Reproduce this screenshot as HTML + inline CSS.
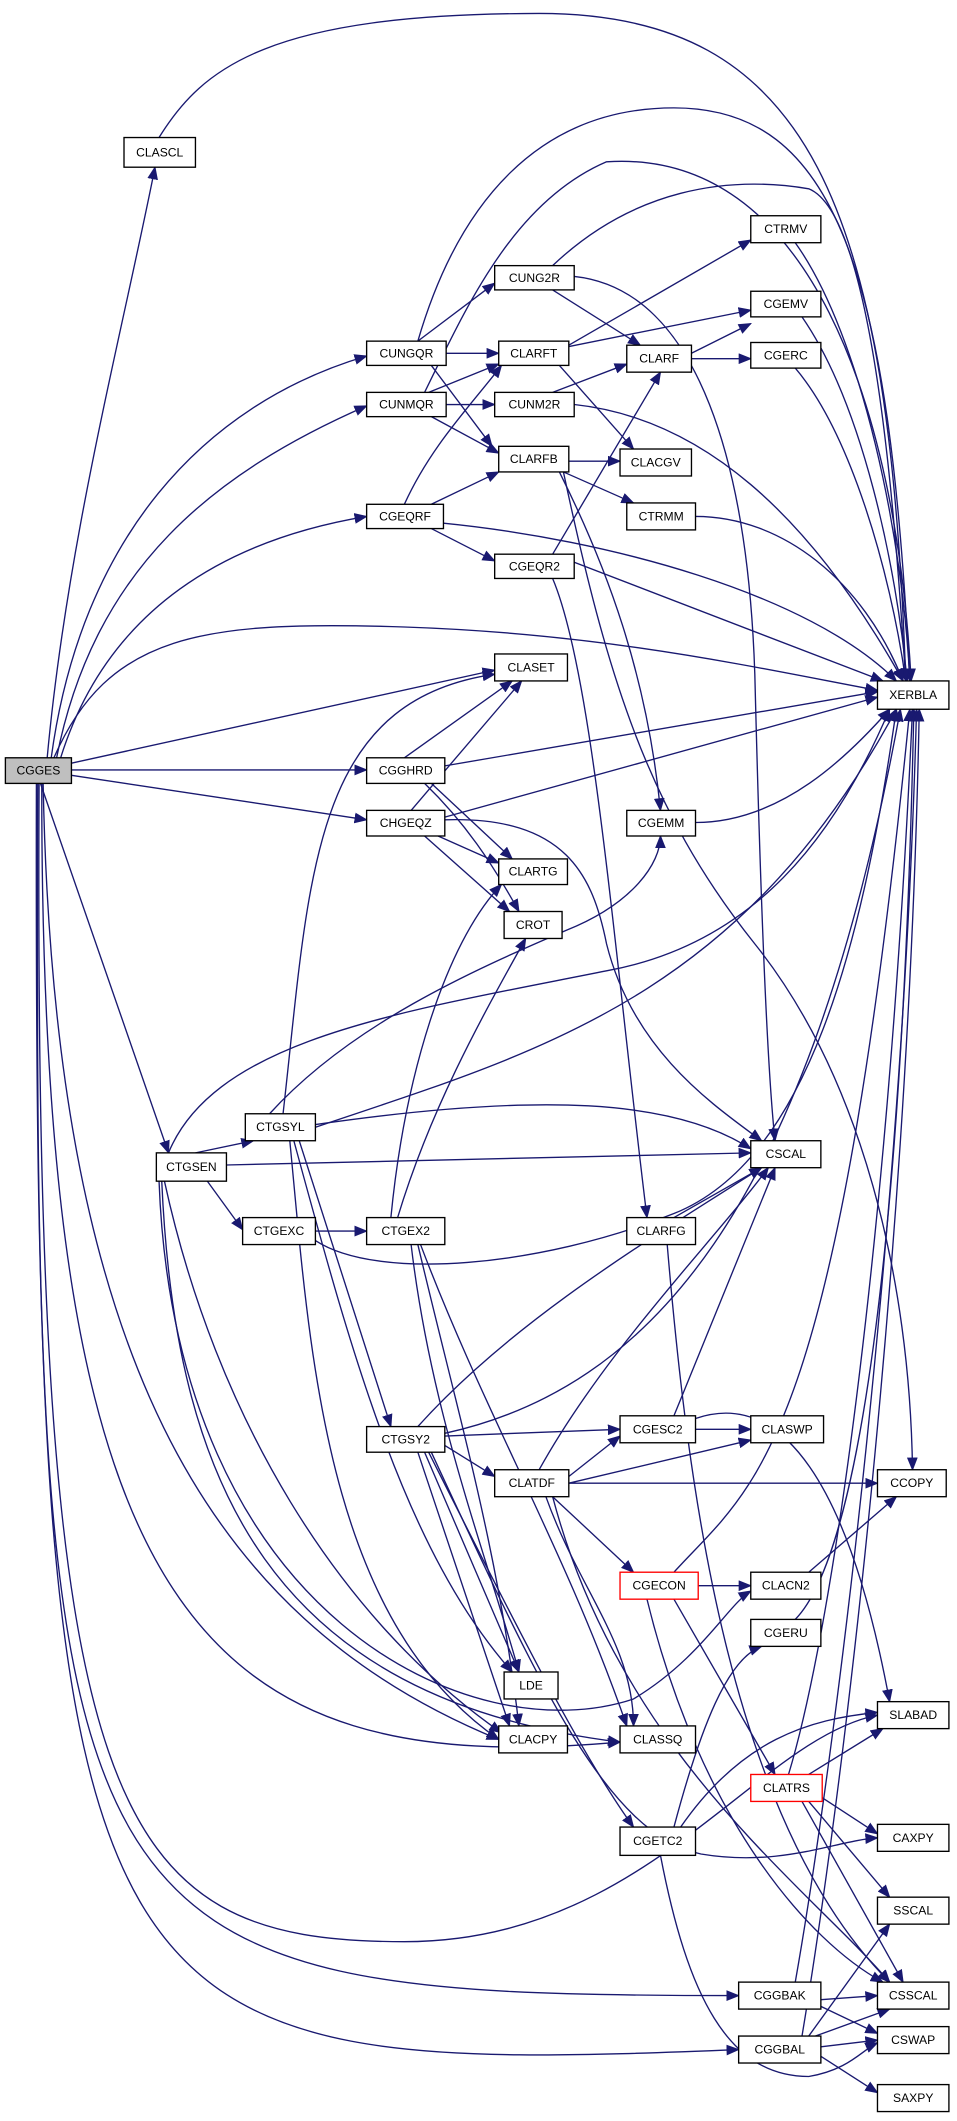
<!DOCTYPE html>
<html><head><meta charset="utf-8"><style>
html,body{margin:0;padding:0;background:#fff;}
svg{display:block;}
text{font-family:"Liberation Sans",sans-serif;font-size:9px;text-anchor:middle;dominant-baseline:central;fill:#000;}
.e{fill:none;stroke:#191970;stroke-width:1;marker-end:url(#a);}
.n{fill:#fff;stroke:#000;stroke-width:1;}
</style></head><body>
<svg width="957" height="2121" viewBox="0 0 710 1573" preserveAspectRatio="none" xmlns="http://www.w3.org/2000/svg">
<defs><marker id="a" markerUnits="userSpaceOnUse" markerWidth="10" markerHeight="8" refX="9" refY="4" orient="auto"><path d="M0,0 L10,4 L0,8 z" fill="#191970"/></marker></defs>
<g>
<path class="e" d="M35,562 C50,400 90,250 115,124"/>
<path class="e" d="M40,562 C80,470 150,460 300,465 C450,470 560,495 651,512"/>
<path class="e" d="M38,562 C60,400 150,300 272,264"/>
<path class="e" d="M42,562 C70,420 160,350 272,301"/>
<path class="e" d="M45,562 C80,450 170,400 272,383"/>
<path class="e" d="M53,566 L367,497"/>
<path class="e" d="M53,571 L272,571"/>
<path class="e" d="M53,575 L272,608"/>
<path class="e" d="M30,581 L125,855"/>
<path class="e" d="M32,581 C40,1000 150,1200 370,1290"/>
<path class="e" d="M31,581 C30,1200 150,1320 460,1292"/>
<path class="e" d="M29,581 C25,1350 80,1440 300,1440 C480,1440 560,1290 651,1272"/>
<path class="e" d="M28,581 C25,1450 40,1480 548,1480"/>
<path class="e" d="M27,581 C25,1520 60,1540 548,1520"/>
<path class="e" d="M118,102 C150,50 200,10 400,10 C600,10 660,150 672,505"/>
<path class="e" d="M310,253 C340,150 400,80 500,80 C620,80 660,200 675,505"/>
<path class="e" d="M310,253 L367,210"/>
<path class="e" d="M331,262 L370,262"/>
<path class="e" d="M320,271 L365,331"/>
<path class="e" d="M318,291 L370,270"/>
<path class="e" d="M331,300 L367,300"/>
<path class="e" d="M320,309 L370,336"/>
<path class="e" d="M315,291 C345,230 380,150 450,120 C600,110 665,300 676,505"/>
<path class="e" d="M300,374 C320,330 350,300 372,271"/>
<path class="e" d="M320,374 L370,350"/>
<path class="e" d="M320,392 L367,416"/>
<path class="e" d="M329,388 C450,400 600,440 665,505"/>
<path class="e" d="M410,215 L475,256"/>
<path class="e" d="M426,205 C520,215 555,350 560,500 C565,700 570,800 575,846"/>
<path class="e" d="M410,197 C470,140 540,130 600,140 C650,160 665,400 672,505"/>
<path class="e" d="M422,256 L557,178"/>
<path class="e" d="M422,257 L557,230"/>
<path class="e" d="M415,271 L470,333"/>
<path class="e" d="M410,291 L465,270"/>
<path class="e" d="M426,300 C520,310 600,380 670,505"/>
<path class="e" d="M422,342 L460,342"/>
<path class="e" d="M418,350 L470,373"/>
<path class="e" d="M415,350 C450,420 480,500 490,601"/>
<path class="e" d="M418,350 C450,500 480,600 560,700 C640,800 675,950 677,1090"/>
<path class="e" d="M410,411 L490,276"/>
<path class="e" d="M410,429 C440,500 455,700 480,903"/>
<path class="e" d="M426,417 L655,505"/>
<path class="e" d="M590,180 C640,250 670,400 675,505"/>
<path class="e" d="M595,235 C640,300 665,420 673,505"/>
<path class="e" d="M590,273 C630,320 660,420 672,505"/>
<path class="e" d="M513,262 L557,240"/>
<path class="e" d="M513,266 L557,266"/>
<path class="e" d="M516,383 C580,383 640,430 670,505"/>
<path class="e" d="M516,610 C580,610 630,560 660,526"/>
<path class="e" d="M300,562 L380,505"/>
<path class="e" d="M330,568 L651,513"/>
<path class="e" d="M320,581 L380,637"/>
<path class="e" d="M315,581 C345,610 365,640 385,676"/>
<path class="e" d="M305,601 L387,505"/>
<path class="e" d="M330,606 L651,517"/>
<path class="e" d="M325,620 L370,640"/>
<path class="e" d="M315,620 L378,676"/>
<path class="e" d="M330,608 C420,605 440,650 450,700 C470,780 530,820 565,846"/>
<path class="e" d="M145,855 L188,846"/>
<path class="e" d="M148,868 L180,912"/>
<path class="e" d="M168,864 L557,855"/>
<path class="e" d="M125,855 C160,770 300,750 450,720 C560,700 620,620 660,526"/>
<path class="e" d="M200,826 C260,760 350,720 420,690 C470,670 490,640 490,620"/>
<path class="e" d="M234,836 C400,780 550,740 665,526"/>
<path class="e" d="M210,826 C230,650 230,520 367,500"/>
<path class="e" d="M234,834 C400,810 500,815 557,852"/>
<path class="e" d="M222,846 L290,1058"/>
<path class="e" d="M215,846 C230,1000 240,1200 370,1290"/>
<path class="e" d="M218,846 C260,1000 300,1150 380,1240"/>
<path class="e" d="M122,876 C160,1050 250,1200 372,1285"/>
<path class="e" d="M120,876 C130,1100 200,1260 460,1292"/>
<path class="e" d="M118,876 C130,1200 350,1300 470,1260 C520,1230 540,1190 557,1180"/>
<path class="e" d="M234,913 L272,913"/>
<path class="e" d="M234,920 C280,950 400,940 500,900 C600,860 640,700 665,526"/>
<path class="e" d="M290,903 C300,800 330,700 372,656"/>
<path class="e" d="M295,903 C320,820 360,750 390,696"/>
<path class="e" d="M310,923 C340,1050 370,1150 385,1280"/>
<path class="e" d="M312,923 C360,1050 420,1150 465,1280"/>
<path class="e" d="M305,923 C320,1050 360,1150 385,1240"/>
<path class="e" d="M310,1058 C380,980 480,920 565,866"/>
<path class="e" d="M330,1063 C480,1030 600,900 668,526"/>
<path class="e" d="M330,1065 L460,1060"/>
<path class="e" d="M330,1072 L367,1095"/>
<path class="e" d="M315,1077 L385,1240"/>
<path class="e" d="M310,1077 L378,1280"/>
<path class="e" d="M318,1077 C380,1200 430,1300 470,1355"/>
<path class="e" d="M320,1077 C400,1250 450,1360 520,1375 C580,1385 620,1365 651,1363"/>
<path class="e" d="M516,1060 L557,1060"/>
<path class="e" d="M500,1050 L575,866"/>
<path class="e" d="M516,1052 C580,1030 630,1100 660,1262"/>
<path class="e" d="M422,1095 L460,1065"/>
<path class="e" d="M422,1100 L557,1068"/>
<path class="e" d="M422,1100 L651,1100"/>
<path class="e" d="M410,1110 L470,1166"/>
<path class="e" d="M400,1090 C450,1000 530,920 570,866"/>
<path class="e" d="M405,1110 C430,1180 470,1220 470,1280"/>
<path class="e" d="M410,1110 C460,1300 600,1400 660,1470"/>
<path class="e" d="M518,1176 L557,1176"/>
<path class="e" d="M500,1186 L575,1316"/>
<path class="e" d="M500,1166 C560,1100 620,1080 675,526"/>
<path class="e" d="M480,1186 C520,1350 600,1440 655,1470"/>
<path class="e" d="M600,1166 L665,1110"/>
<path class="e" d="M590,1201 C640,1150 670,900 678,526"/>
<path class="e" d="M500,1355 C520,1280 540,1230 565,1221"/>
<path class="e" d="M505,1355 C550,1290 600,1275 651,1270"/>
<path class="e" d="M490,1376 C510,1480 540,1540 600,1540 C630,1535 640,1520 651,1515"/>
<path class="e" d="M600,1316 L655,1282"/>
<path class="e" d="M605,1330 L651,1360"/>
<path class="e" d="M600,1336 L660,1407"/>
<path class="e" d="M595,1336 L670,1470"/>
<path class="e" d="M585,1316 C620,1200 660,900 677,526"/>
<path class="e" d="M609,1483 L651,1480"/>
<path class="e" d="M609,1488 L651,1508"/>
<path class="e" d="M590,1470 C620,1300 670,900 680,526"/>
<path class="e" d="M609,1518 L651,1513"/>
<path class="e" d="M609,1525 L651,1552"/>
<path class="e" d="M600,1510 L660,1427"/>
<path class="e" d="M605,1510 L660,1490"/>
<path class="e" d="M595,1510 C630,1300 675,900 682,526"/>
<path class="e" d="M500,903 L565,866"/>
<path class="e" d="M495,923 C510,1100 540,1350 660,1470"/>
</g>
<g>
<rect class="n" x="4" y="562" width="49" height="19" style="fill:#bfbfbf"/><text x="28.5" y="571.5">CGGES</text>
<rect class="n" x="92" y="102" width="53" height="22"/><text x="118.5" y="113">CLASCL</text>
<rect class="n" x="272" y="253" width="59" height="18"/><text x="301.5" y="262">CUNGQR</text>
<rect class="n" x="272" y="291" width="59" height="18"/><text x="301.5" y="300">CUNMQR</text>
<rect class="n" x="272" y="374" width="57" height="18"/><text x="300.5" y="383">CGEQRF</text>
<rect class="n" x="367" y="197" width="59" height="18"/><text x="396.5" y="206">CUNG2R</text>
<rect class="n" x="370" y="253" width="52" height="18"/><text x="396" y="262">CLARFT</text>
<rect class="n" x="367" y="291" width="59" height="18"/><text x="396.5" y="300">CUNM2R</text>
<rect class="n" x="370" y="331" width="52" height="19"/><text x="396" y="340.5">CLARFB</text>
<rect class="n" x="367" y="411" width="59" height="18"/><text x="396.5" y="420">CGEQR2</text>
<rect class="n" x="557" y="160" width="52" height="20"/><text x="583" y="170">CTRMV</text>
<rect class="n" x="557" y="216" width="52" height="19"/><text x="583" y="225.5">CGEMV</text>
<rect class="n" x="465" y="256" width="48" height="20"/><text x="489" y="266">CLARF</text>
<rect class="n" x="557" y="254" width="52" height="19"/><text x="583" y="263.5">CGERC</text>
<rect class="n" x="460" y="333" width="53" height="20"/><text x="486.5" y="343">CLACGV</text>
<rect class="n" x="465" y="373" width="51" height="20"/><text x="490.5" y="383">CTRMM</text>
<rect class="n" x="651" y="505" width="53" height="21"/><text x="677.5" y="515.5">XERBLA</text>
<rect class="n" x="367" y="485" width="54" height="20"/><text x="394" y="495">CLASET</text>
<rect class="n" x="272" y="562" width="58" height="19"/><text x="301" y="571.5">CGGHRD</text>
<rect class="n" x="272" y="601" width="58" height="19"/><text x="301" y="610.5">CHGEQZ</text>
<rect class="n" x="465" y="601" width="51" height="19"/><text x="490.5" y="610.5">CGEMM</text>
<rect class="n" x="370" y="637" width="51" height="19"/><text x="395.5" y="646.5">CLARTG</text>
<rect class="n" x="374" y="676" width="43" height="20"/><text x="395.5" y="686">CROT</text>
<rect class="n" x="182" y="826" width="52" height="20"/><text x="208" y="836">CTGSYL</text>
<rect class="n" x="116" y="855" width="52" height="21"/><text x="142" y="865.5">CTGSEN</text>
<rect class="n" x="180" y="903" width="54" height="20"/><text x="207" y="913">CTGEXC</text>
<rect class="n" x="272" y="903" width="58" height="20"/><text x="301" y="913">CTGEX2</text>
<rect class="n" x="557" y="846" width="52" height="20"/><text x="583" y="856">CSCAL</text>
<rect class="n" x="465" y="903" width="51" height="20"/><text x="490.5" y="913">CLARFG</text>
<rect class="n" x="272" y="1058" width="58" height="19"/><text x="301" y="1067.5">CTGSY2</text>
<rect class="n" x="460" y="1050" width="56" height="20"/><text x="488" y="1060">CGESC2</text>
<rect class="n" x="557" y="1050" width="54" height="20"/><text x="584" y="1060">CLASWP</text>
<rect class="n" x="367" y="1090" width="55" height="20"/><text x="394.5" y="1100">CLATDF</text>
<rect class="n" x="651" y="1090" width="51" height="20"/><text x="676.5" y="1100">CCOPY</text>
<rect class="n" x="460" y="1166" width="58" height="20" style="stroke:#ff0000"/><text x="489" y="1176">CGECON</text>
<rect class="n" x="557" y="1166" width="52" height="20"/><text x="583" y="1176">CLACN2</text>
<rect class="n" x="557" y="1201" width="52" height="20"/><text x="583" y="1211">CGERU</text>
<rect class="n" x="374" y="1240" width="40" height="20"/><text x="394" y="1250">LDE</text>
<rect class="n" x="370" y="1280" width="51" height="20"/><text x="395.5" y="1290">CLACPY</text>
<rect class="n" x="460" y="1280" width="56" height="20"/><text x="488" y="1290">CLASSQ</text>
<rect class="n" x="651" y="1262" width="53" height="20"/><text x="677.5" y="1272">SLABAD</text>
<rect class="n" x="557" y="1316" width="53" height="20" style="stroke:#ff0000"/><text x="583.5" y="1326">CLATRS</text>
<rect class="n" x="460" y="1355" width="56" height="21"/><text x="488" y="1365.5">CGETC2</text>
<rect class="n" x="651" y="1353" width="53" height="20"/><text x="677.5" y="1363">CAXPY</text>
<rect class="n" x="651" y="1407" width="53" height="20"/><text x="677.5" y="1417">SSCAL</text>
<rect class="n" x="548" y="1470" width="61" height="20"/><text x="578.5" y="1480">CGGBAK</text>
<rect class="n" x="651" y="1470" width="53" height="20"/><text x="677.5" y="1480">CSSCAL</text>
<rect class="n" x="548" y="1510" width="61" height="20"/><text x="578.5" y="1520">CGGBAL</text>
<rect class="n" x="651" y="1503" width="53" height="20"/><text x="677.5" y="1513">CSWAP</text>
<rect class="n" x="651" y="1546" width="53" height="20"/><text x="677.5" y="1556">SAXPY</text>
</g>
</svg>
</body></html>
